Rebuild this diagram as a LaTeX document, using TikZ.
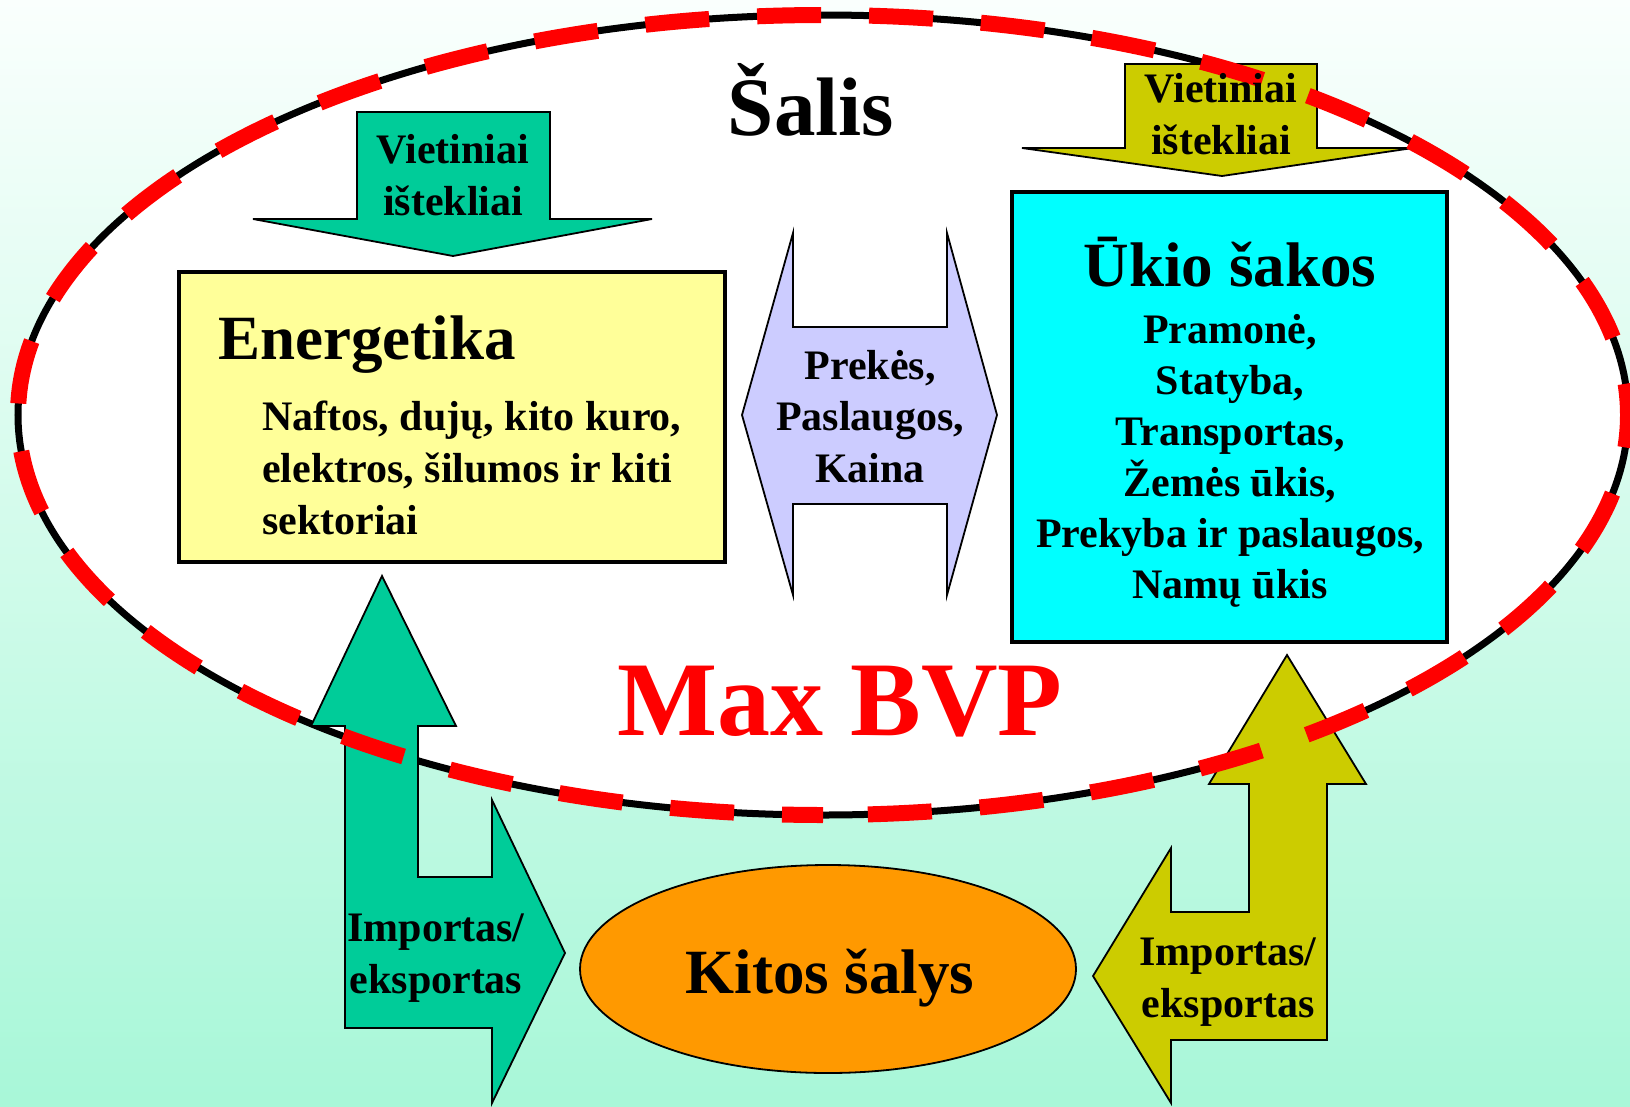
\documentclass[tikz,border=0pt]{standalone}
\usepackage{fontspec}
\setmainfont{Liberation Serif}
\usepackage{tikz}

\definecolor{bgtop}{RGB}{250,255,253}
\definecolor{bgbot}{RGB}{168,247,216}
\definecolor{arrgreen}{RGB}{0,204,153}
\definecolor{arrolive}{RGB}{204,204,0}
\definecolor{arrlilac}{RGB}{204,204,255}
\definecolor{boxyellow}{RGB}{255,255,153}
\definecolor{boxcyan}{RGB}{0,255,255}
\definecolor{kitorange}{RGB}{255,153,0}

\tikzset{
    blockarrow/.style={draw=black,line width=1.8pt,line join=miter},
    sectorbox/.style={draw=black,line width=4pt},
    txt/.style={font=\bfseries\fontsize{42}{51.5}\selectfont,align=center,inner sep=0pt},
    headtxt/.style={font=\bfseries\fontsize{63}{70}\selectfont,inner sep=0pt}
}

\begin{document}
\begin{tikzpicture}[x=1pt,y=-1pt]
                \useasboundingbox (0,0) rectangle (1630,1106);
                \clip (0,0) rectangle (1630,1106);
                \shade[top color=bgtop,bottom color=bgbot] (0,0) rectangle (1630,1106);

                % the country: white oval, black rim (red dashes come later, on top)
                \coordinate (salisc) at (823,415);
                \fill[white] (salisc) ellipse [x radius=805,y radius=400];
                \draw[line width=7pt] (salisc) ellipse [x radius=805,y radius=400];

                \draw[blockarrow,fill=arrgreen] (357,112) -- (550,112) -- (550,219) -- (652,219)
                    -- (453,256) -- (253,219) -- (357,219) -- cycle;
                \draw[blockarrow,fill=arrolive] (1125,64) -- (1317,64) -- (1317,148) -- (1413,148)
                    -- (1222,176) -- (1022,148) -- (1125,148) -- cycle;

                \draw[sectorbox,fill=boxyellow] (179,272) rectangle (725,562);
                \draw[sectorbox,fill=boxcyan] (1012,192) rectangle (1447,642);

                \draw[blockarrow,fill=arrlilac] (793,233) -- (793,327) -- (947,327) -- (947,233)
                    -- (997,415) -- (947,595) -- (947,504) -- (793,504) -- (793,595)
                    -- (742,415) -- cycle;

                % import / export
                \draw[blockarrow,fill=arrgreen] (345,1028) -- (345,726) -- (311,726) -- (382,576)
                    -- (456,726) -- (418,726) -- (418,877) -- (492,877) -- (492,800)
                    -- (565,953) -- (492,1103) -- (492,1028) -- cycle;
                \draw[blockarrow,fill=arrolive] (1327,1040) -- (1327,784) -- (1366,784) -- (1287,655)
                    -- (1209,784) -- (1249,784) -- (1249,912) -- (1171,912) -- (1171,848)
                    -- (1093,976) -- (1171,1103) -- (1171,1040) -- cycle;

                \draw[blockarrow,fill=kitorange] (828,969) ellipse [x radius=248,y radius=104];

                \draw[red,line width=16pt,dash pattern=on 64pt off 48pt,dash phase=23pt]
                    (823,815) arc [start angle=90,end angle=450,x radius=805,y radius=400];

                % multi-line texts sit on the baseline of their last line
                \node[font=\bfseries\fontsize{83}{90}\selectfont,inner sep=0pt,anchor=base] (salis) at (811,135) {Šalis};
                \node[font=\bfseries\fontsize{106}{110}\selectfont,text=red,inner sep=0pt,anchor=base] (maxbvp) at (840,735) {Max BVP};
                \node[txt,anchor=base] (vietl) at (453,215) {Vietiniai\\ištekliai};
                \node[txt,anchor=base] (vietr) at (1221,154) {Vietiniai\\ištekliai};
                \node[headtxt,anchor=base west] (energ) at (218,359) {Energetika};
                \node[txt,align=left,anchor=base west,font=\bfseries\fontsize{42}{52}\selectfont] (energsub) at (262,534)
                    {Naftos, dujų, kito kuro,\\elektros, šilumos ir kiti\\sektoriai};
                \node[txt,anchor=base] (prekes) at (870,482) {Prekės,\\Paslaugos,\\Kaina};
                \node[headtxt,anchor=base] (ukio) at (1230,286) {Ūkio šakos};
                \node[txt,anchor=base,font=\bfseries\fontsize{42}{51}\selectfont] (ukiosub) at (1230,598)
                    {Pramonė,\\Statyba,\\Transportas,\\Žemės ūkis,\\Prekyba ir paslaugos,\\Namų ūkis};
                \node[txt,anchor=base] (impl) at (436,993) {Importas/\\eksportas};
                \node[txt,anchor=base] (impr) at (1228,1017) {Importas/\\eksportas};
                \node[headtxt,anchor=base] (kitos) at (830,993) {Kitos šalys};
\end{tikzpicture}
\end{document}
